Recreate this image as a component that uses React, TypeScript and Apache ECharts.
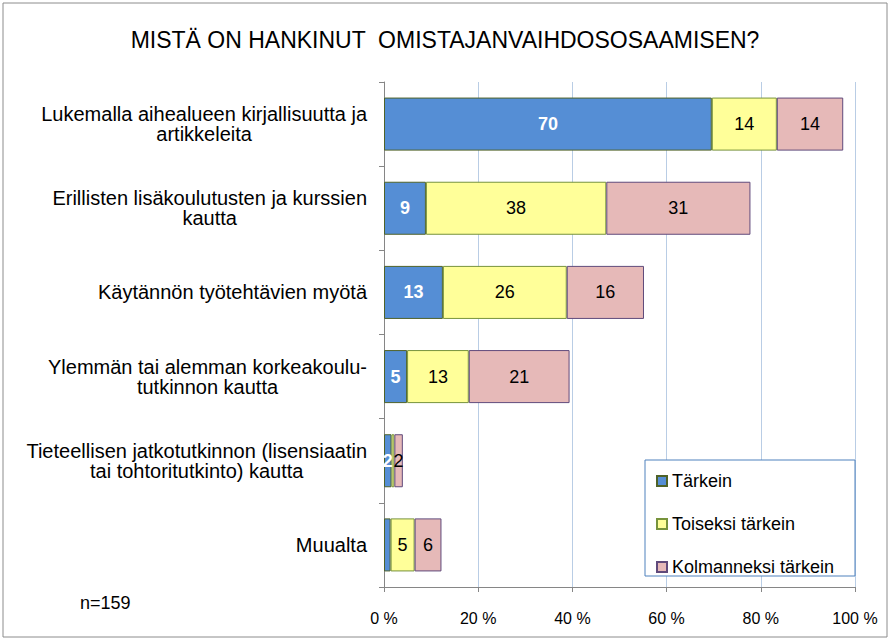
import React, { useEffect, useRef } from "react";
import * as echarts from "echarts";

const categories = [
  "Lukemalla aihealueen kirjallisuutta ja\nartikkeleita",
  "Erillisten lisäkoulutusten ja kurssien\nkautta",
  "Käytännön työtehtävien myötä",
  "Ylemmän tai alemman korkeakoulu-\ntutkinnon kautta",
  "Tieteellisen jatkotutkinnon (lisensiaatin\ntai tohtoritutkinto) kautta",
  "Muualta",
];
const seriesNames = ["Tärkein", "Toiseksi tärkein", "Kolmanneksi tärkein"];
const tarkein = [69.6, 8.9, 12.5, 4.9, 1.6, 1.4];
const toiseksi = [13.8, 38.3, 26.3, 13.1, 0.6, 5.1];
const kolmanneksi = [14.1, 30.6, 16.4, 21.4, 1.8, 5.7];
const xTicks = [0, 20, 40, 60, 80, 100];
const titleText = "MISTÄ ON HANKINUT  OMISTAJANVAIHDOSOSAAMISEN?";
const nText = "n=159";

const FONT = "'Liberation Sans', Arial, sans-serif";

export default function App() {
  const ref = useRef<HTMLDivElement>(null);
  useEffect(() => {
    if (!ref.current) return;
    const chart = echarts.init(ref.current, undefined, { renderer: "svg" });
    const fmt = (p: any) => (p.value < 1.5 ? "" : String(Math.round(p.value)));
    const mk = (name: string, data: number[], color: string, border: string, labelColor: string, bold: boolean) => ({
      name,
      type: "bar",
      stack: "total",
      data,
      barWidth: "63%",
      itemStyle: { color, borderColor: border, borderWidth: 1 },
      label: {
        show: true,
        position: "inside",
        formatter: fmt,
        color: labelColor,
        fontSize: 18,
        fontWeight: bold ? "bold" : "normal",
        fontFamily: FONT,
      },
    });
    chart.setOption({
      animation: false,
      backgroundColor: "#ffffff",
      title: {
        text: titleText,
        left: "center",
        top: 23,
        textStyle: {
          fontFamily: FONT,
          fontSize: 23,
          fontWeight: "normal",
          color: "#000",
        },
      },
      grid: { left: 384, right: 35, top: 82, bottom: 53, containLabel: false },
      xAxis: {
        type: "value",
        min: 0,
        max: 100,
        interval: 20,
        axisLine: { show: true, lineStyle: { color: "#868686" } },
        axisTick: { show: true, length: 5, lineStyle: { color: "#868686" } },
        axisLabel: {
          formatter: (v: number) => (xTicks.includes(v) ? v + " %" : ""),
          fontSize: 16,
          fontFamily: FONT,
          color: "#000",
          margin: 23,
        },
        splitLine: { show: true, lineStyle: { color: "#b9cde5" } },
      },
      yAxis: {
        type: "category",
        data: categories,
        inverse: true,
        axisLine: { show: true, lineStyle: { color: "#868686" } },
        axisTick: { show: true, length: 5, lineStyle: { color: "#868686" } },
        axisLabel: {
          margin: 17,
          align: "right",
          formatter: (v: string) =>
            v
              .split("\n")
              .map((l) => "{c|" + l + "}")
              .join("\n"),
          rich: {
            c: {
              fontSize: 20,
              lineHeight: 20,
              fontFamily: FONT,
              color: "#000",
              align: "center",
            },
          },
        },
      },
      legend: {
        orient: "vertical",
        left: 651,
        top: 466,
        itemWidth: 10,
        itemHeight: 10,
        itemGap: 23,
        icon: "rect",
        z: 10,
        textStyle: { fontSize: 18, fontFamily: FONT, color: "#000", lineHeight: 20 },
        data: seriesNames,
      },
      graphic: [
        {
          type: "rect",
          shape: { x: 3, y: 3, width: 884, height: 634 },
          style: { fill: "none", stroke: "#8c8c8c", lineWidth: 1 },
          silent: true,
          z: 0,
        },
        {
          type: "rect",
          shape: { x: 645, y: 460, width: 210, height: 116 },
          style: { fill: "#ffffff", stroke: "#4f81bd", lineWidth: 1 },
          silent: true,
          z: 3,
        },
        {
          type: "text",
          x: 80,
          y: 594,
          style: { text: nText, fontSize: 18, fontFamily: FONT, fill: "#000" },
        },
      ],
      series: [
        mk(seriesNames[0], tarkein, "#558ed5", "#4f6228", "#ffffff", true),
        mk(seriesNames[1], toiseksi, "#ffff99", "#77933c", "#000000", false),
        mk(seriesNames[2], kolmanneksi, "#e6b9b8", "#604a7b", "#000000", false),
      ],
    });
    return () => chart.dispose();
  }, []);
  return (
    <div
      ref={ref}
      style={{ position: "fixed", left: 0, top: 0, width: 890, height: 640 }}
    />
  );
}
